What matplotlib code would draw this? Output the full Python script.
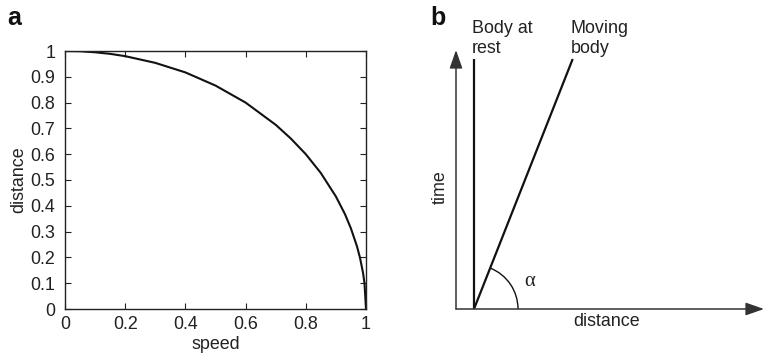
import numpy as np
import matplotlib.pyplot as plt
from matplotlib.patches import Arc

plt.rcParams['font.family'] = ['Liberation Sans', 'DejaVu Sans']

## Panel a data
speed = [0.0, 0.05, 0.1, 0.15, 0.2, 0.3, 0.4, 0.5, 0.6, 0.7, 0.75, 0.8,
         0.85, 0.9, 0.93, 0.95, 0.97, 0.98, 0.99, 0.995, 1.0]
distance = [1.0, 0.999, 0.995, 0.989, 0.98, 0.954, 0.917, 0.866, 0.8, 0.714,
            0.661, 0.6, 0.527, 0.436, 0.368, 0.312, 0.243, 0.199, 0.141,
            0.1, 0.0]
ticks_a = [0, 0.2, 0.4, 0.6, 0.8, 1]
ticks_a_labels = ['0', '0.2', '0.4', '0.6', '0.8', '1']
yticks_a = [0, 0.1, 0.2, 0.3, 0.4, 0.5, 0.6, 0.7, 0.8, 0.9, 1]
yticks_a_labels = ['0', '0.1', '0.2', '0.3', '0.4', '0.5', '0.6', '0.7',
                   '0.8', '0.9', '1']

## Panel b data (schematic, arbitrary units)
axis_len_x = 3.08
axis_len_t = 2.59
rest_x = [0.18, 0.18]
rest_t = [0.0, 2.5]
moving_x = [0.18, 1.167]
moving_t = [0.0, 2.5]
arc_radius = 0.44

FS = 12.9
fig = plt.figure(figsize=(7.64, 3.56), dpi=100)

#### Panel a ####
ax = fig.add_axes([65/764, 47/356, 301/764, 258/356])
ax.plot(speed, distance, color='#111111', lw=1.5)
ax.set_xlim(0, 1)
ax.set_ylim(0, 1)
ax.set_xticks(ticks_a)
ax.set_xticklabels(ticks_a_labels)
ax.set_yticks(yticks_a)
ax.set_yticklabels(yticks_a_labels)
ax.tick_params(direction='in', top=True, right=True, length=4, width=0.8,
               labelsize=FS, color='#222222', labelcolor='#222222')
ax.tick_params(axis='x', pad=5)
ax.tick_params(axis='y', pad=7)
for s in ax.spines.values():
    s.set_linewidth(1.0)
    s.set_color('#222222')
ax.set_xlabel('speed', fontsize=FS, labelpad=2, color='#222222')
ax.set_ylabel('distance', fontsize=FS, labelpad=2, color='#222222')
fig.text(7/764, 1 - 25/356, 'a', fontsize=18, fontweight='bold',
         color='#111111')

#### Panel b ####
bx = fig.add_axes([456/764, 47/356, 308/764, 259/356])
bx.set_xlim(0, axis_len_x)
bx.set_ylim(0, axis_len_t)
bx.axis('off')
arrow_kw = dict(arrowstyle='-|>,head_length=0.8,head_width=0.28',
                mutation_scale=14, color='#333333', lw=1.1,
                shrinkA=0, shrinkB=0)
bx.annotate('', xy=(0, axis_len_t), xytext=(0, 0), arrowprops=arrow_kw,
            annotation_clip=False)
bx.annotate('', xy=(axis_len_x, 0), xytext=(0, 0), arrowprops=arrow_kw,
            annotation_clip=False)
bx.plot(rest_x, rest_t, color='#111111', lw=1.6, solid_capstyle='butt')
bx.plot(moving_x, moving_t, color='#111111', lw=1.6, solid_capstyle='butt')

ang = np.degrees(np.arctan2(moving_t[1] - moving_t[0],
                            moving_x[1] - moving_x[0]))
bx.add_patch(Arc((moving_x[0], moving_t[0]), 2*arc_radius, 2*arc_radius,
                 theta1=0, theta2=ang, color='#111111', lw=1.0))
bx.text(moving_x[0] + 0.5, 0.27, 'α', fontsize=FS+2, color='#222222',
        ha='left', va='center', family=['Liberation Serif', 'DejaVu Serif'])

bx.text(1.51, -0.13, 'distance', fontsize=FS, ha='center', va='center',
        color='#222222')
bx.text(-0.16, 1.22, 'time', fontsize=FS, ha='center', va='center',
        rotation=90, color='#222222')
bx.text(rest_x[0] - 0.02, 2.52, 'Body at\nrest', fontsize=FS, ha='left',
        va='bottom', color='#222222', linespacing=1.25)
bx.text(moving_x[1] - 0.02, 2.52, 'Moving\nbody', fontsize=FS, ha='left',
        va='bottom', color='#222222', linespacing=1.25)
fig.text(430/764, 1 - 25/356, 'b', fontsize=18, fontweight='bold',
         color='#111111')

fig.savefig('out.png', dpi=100)
